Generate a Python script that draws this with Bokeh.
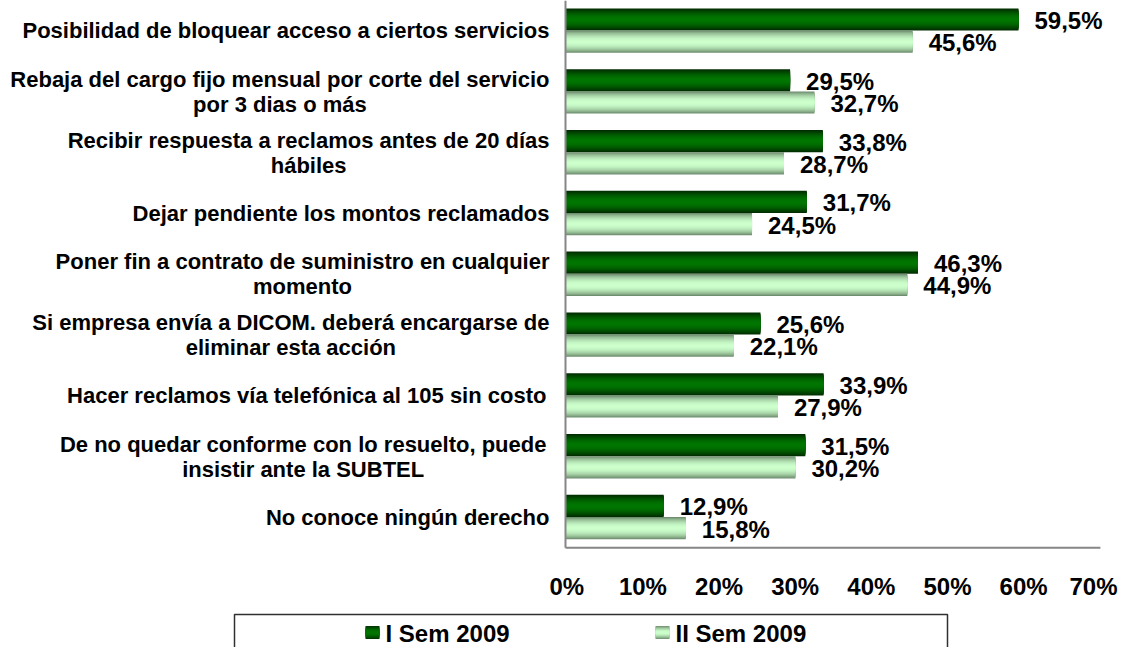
import numpy as np
from bokeh.plotting import figure
from bokeh.models import Range1d, ColumnDataSource
from bokeh.core.properties import value
from bokeh.embed import file_html
from bokeh.resources import INLINE

# ---------------- data ----------------
categories = [
    "Posibilidad de bloquear acceso a ciertos servicios",
    "Rebaja del cargo fijo mensual por corte del servicio\npor 3 dias o más",
    "Recibir respuesta a reclamos antes de 20 días\nhábiles",
    "Dejar pendiente los montos reclamados",
    "Poner fin a contrato de suministro en cualquier\nmomento",
    "Si empresa envía a DICOM. deberá encargarse de\neliminar esta acción",
    "Hacer reclamos vía telefónica al 105 sin costo ",
    "De no quedar conforme con lo resuelto, puede \ninsistir ante la SUBTEL",
    "No conoce ningún derecho",
]
series_names = ["I Sem 2009", "II Sem 2009"]
sem1 = [59.5, 29.5, 33.8, 31.7, 46.3, 25.6, 33.9, 31.5, 12.9]
sem2 = [45.6, 32.7, 28.7, 24.5, 44.9, 22.1, 27.9, 30.2, 15.8]
x_ticks = [0, 10, 20, 30, 40, 50, 60, 70]
x_tick_labels = ["0%", "10%", "20%", "30%", "40%", "50%", "60%", "70%"]

# ---------------- layout ----------------
W, H = 1119, 647
PX_PER = 7.613         # pixels per percent
X0 = 565               # canvas px of 0 %
BAND = 60.8            # px per category band
FONT = value("Liberation Sans")

def ux(px):
    return px / PX_PER

def uy(px):
    return px / BAND

def cx(px):  # canvas px -> x data
    return (px - X0) / PX_PER

def cy(px):  # canvas px -> y data
    return px / BAND

n_cat = len(categories)
p = figure(width=W, height=H,
           x_range=Range1d(cx(0), cx(W)), y_range=Range1d(cy(H), 0),
           output_backend="svg", toolbar_location=None,
           x_axis_location=None, y_axis_location=None,
           min_border=0, outline_line_color=None)
p.grid.visible = False
p.background_fill_color = "white"
p.border_fill_color = "white"

# ---------------- gradient bars (nested layers, no seams) ----------------
def mix(c1, c2, f):
    r = [int(round(a + (b - a) * f)) for a, b in zip(c1, c2)]
    return "#%02x%02x%02x" % tuple(r)

def gradient_hbar(top, bot, vals, edge, center, power, n=11):
    mid = (top + bot) / 2
    h = bot - top
    ys = np.arange(n_cat) + mid
    for k in range(n):
        frac = 1 - k / n
        t = (k + 0.5) / (2 * n)
        f = np.sin(np.pi * t) ** power
        p.hbar(y=ys, height=h * frac, left=0, right=vals,
               fill_color=mix(edge, center, f), line_color=None)

D_TOP, D_BOT = 0.13, 0.495
L_TOP, L_BOT = 0.495, 0.86
DARK_EDGE, DARK_C = (0, 40, 0), (0, 118, 0)
LIGHT_EDGE, LIGHT_C = (96, 124, 96), (204, 255, 204)

gradient_hbar(D_TOP, D_BOT, sem1, DARK_EDGE, DARK_C, 1.0)
gradient_hbar(L_TOP, L_BOT, sem2, LIGHT_EDGE, LIGHT_C, 0.75)

# ---------------- axis lines ----------------
p.segment(x0=[0, 0], y0=[0, n_cat], x1=[0, x_ticks[-1] + ux(2)], y1=[n_cat, n_cat],
          line_color="#868686", line_width=2)

# ---------------- value labels ----------------
def fmt(v):
    return ("%.1f%%" % v).replace(".", ",")

idx = np.arange(n_cat)
vsrc = ColumnDataSource(dict(
    x=list(np.array(sem1) + ux(16)) + list(np.array(sem2) + ux(16)),
    y=list(idx + (D_TOP + D_BOT) / 2 + uy(1)) + list(idx + (L_TOP + L_BOT) / 2 + uy(1)),
    t=[fmt(v) for v in sem1] + [fmt(v) for v in sem2],
))
p.text(x="x", y="y", text="t", source=vsrc, text_font=FONT, text_font_style="bold",
       text_font_size="24px", text_align="left", text_baseline="middle", text_color="black")

# ---------------- text width table (Arial/Liberation Sans Bold) ----------------
AW = {' ': 278, ',': 278, '.': 278, '%': 889}
for ch in "0123456789":
    AW[ch] = 556
AW.update(dict(a=556, b=611, c=556, d=611, e=556, f=333, g=611, h=611, i=278, j=278,
               k=556, l=278, m=889, n=611, o=611, p=611, q=611, r=389, s=556, t=333,
               u=611, v=556, w=778, x=556, y=556, z=500))
AW.update(dict(A=722, B=722, C=722, D=722, E=667, F=611, G=778, H=722, I=278, J=556,
               K=722, L=611, M=833, N=722, O=778, P=667, Q=778, R=722, S=667, T=611,
               U=722, V=667, W=944, X=667, Y=667, Z=611))
AW.update({'á': 556, 'é': 556, 'í': 278, 'ó': 611, 'ú': 611, 'ñ': 611})

def text_w(s, fs):
    return sum(AW.get(ch, 556) for ch in s) * fs / 1000.0

# ---------------- category labels ----------------
CAT_FS = 22
RIGHT = 549  # canvas px of right edge of category labels
LINE = 25    # px line spacing
lx, ly, lt = [], [], []
for i, cat in enumerate(categories):
    lines = cat.split("\n")
    wmax = max(text_w(s, CAT_FS) for s in lines)
    center = cx(RIGHT - wmax / 2)
    n = len(lines)
    for j, s in enumerate(lines):
        lx.append(center)
        ly.append(i + 0.5 + uy((j - (n - 1) / 2) * LINE))
        lt.append(s.strip())
csrc = ColumnDataSource(dict(x=lx, y=ly, t=lt))
p.text(x="x", y="y", text="t", source=csrc, text_font=FONT, text_font_style="bold",
       text_font_size="22px", text_align="center", text_baseline="middle", text_color="black")

# ---------------- x tick labels ----------------
TICK_FS = 24
tx = []
for t, lab in zip(x_ticks, x_tick_labels):
    half = text_w(lab, TICK_FS) / 2
    c_px = X0 + t * PX_PER + 1.3
    c_px = min(c_px, W - 2 - half)   # keep the last label inside the canvas
    tx.append(cx(c_px))
tsrc = ColumnDataSource(dict(x=tx, y=[cy(586)] * len(x_ticks), t=x_tick_labels))
p.text(x="x", y="y", text="t", source=tsrc, text_font=FONT, text_font_style="bold",
       text_font_size="24px", text_align="center", text_baseline="middle", text_color="black")

# ---------------- legend ----------------
p.quad(left=[cx(234)], right=[cx(947)], top=[cy(614)], bottom=[cy(H + 40)],
       fill_color=None, line_color="#303030", line_width=1.5)
leg_sq_x = [cx(365), cx(655)]
leg_txt_x = [cx(385), cx(675)]
sq_mid, sq_h = cy(632), uy(13)
sq_colors = [(DARK_EDGE, DARK_C), (LIGHT_EDGE, LIGHT_C)]
for k, name in enumerate(series_names):
    ec, cc = sq_colors[k]
    nl = 5
    for s in range(nl):
        frac = 1 - s / nl
        t = (s + 0.5) / (2 * nl)
        f = np.sin(np.pi * t) ** 0.8
        p.rect(x=[leg_sq_x[k] + ux(7)], y=[sq_mid], width=ux(14), height=sq_h * frac,
               fill_color=mix(ec, cc, f), line_color=None)
lsrc = ColumnDataSource(dict(x=leg_txt_x, y=[cy(633)] * 2, t=series_names))
p.text(x="x", y="y", text="t", source=lsrc, text_font=FONT, text_font_style="bold",
       text_font_size="24px", text_align="left", text_baseline="middle", text_color="black")

open("out.html", "w").write(file_html(p, INLINE))
